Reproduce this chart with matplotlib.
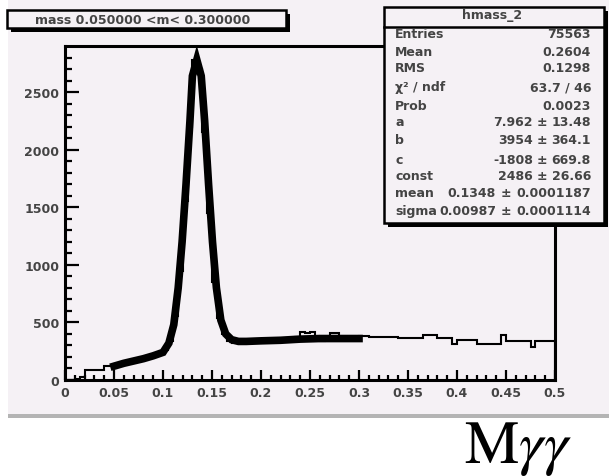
import numpy as np
import matplotlib.pyplot as plt
from matplotlib.patches import Rectangle

# two-photon invariant mass, 100 bins of 0.005 between 0 and 0.5
bin_edges = np.linspace(0.0, 0.5, 101)
counts = [
    0, 0, 5, 30, 85, 85, 85, 85, 124, 124,
    135, 145, 150, 165, 170, 180, 190, 200, 215, 230,
    260, 340, 560, 950, 1550, 2200, 2780, 2700, 2150, 1450,
    850, 540, 400, 340, 325, 320, 335, 345, 340, 350,
    345, 355, 350, 360, 355, 365, 360, 375, 420, 410,
    415, 360, 340, 345, 410, 405, 360, 350, 370, 375,
    385, 385, 370, 370, 370, 370, 370, 370, 362, 362,
    362, 362, 362, 392, 392, 392, 365, 365, 365, 310,
    348, 348, 348, 348, 315, 315, 315, 315, 315, 392,
    342, 342, 342, 342, 342, 288, 342, 342, 342, 342,
]

# gaussian + pol2 fit, drawn over the fit range 0.05 - 0.3
fit_x = [0.050, 0.060, 0.070, 0.080, 0.090, 0.100, 0.106, 0.111, 0.1155,
         0.1195, 0.1235, 0.1275, 0.130, 0.1345, 0.139, 0.1425, 0.1465,
         0.1505, 0.1545, 0.159, 0.164, 0.170, 0.177, 0.185, 0.200, 0.220,
         0.240, 0.260, 0.280, 0.300]
fit_y = [120, 145, 165, 185, 210, 240, 320, 480, 800,
         1200, 1700, 2250, 2640, 2780, 2640, 2250, 1700,
         1200, 800, 520, 400, 350, 335, 335, 340, 345,
         355, 360, 360, 360]

x_ticks = [0, 0.05, 0.1, 0.15, 0.2, 0.25, 0.3, 0.35, 0.4, 0.45, 0.5]
x_tick_labels = ['0', '0.05', '0.1', '0.15', '0.2', '0.25', '0.3', '0.35',
                 '0.4', '0.45', '0.5']
y_ticks = [0, 500, 1000, 1500, 2000, 2500]
y_tick_labels = ['0', '500', '1000', '1500', '2000', '2500']

hist_title = 'mass 0.050000 <m< 0.300000'
stats_title = 'hmass_2'
stat_names = ['Entries', 'Mean', 'RMS', 'χ² / ndf', 'Prob']
stat_values = ['75563', '0.2604', '0.1298', '63.7 / 46', '0.0023']
par_names = ['a', 'b', 'c', 'const']
par_values = ['7.962', '3954', '-1808', '2486']
par_errors = ['13.48', '364.1', '669.8', '26.66']
peak_names = ['mean', 'sigma']
peak_values = ['0.1348', '0.00987']
peak_errors = ['0.0001187', '0.0001114']

W, H = 609, 477
pad_color = '#f5f1f5'
text_color = '#444444'
font = 'DejaVu Sans'


def fx(px):
    return px / W


def fy(py):
    return 1 - py / H


def box(fig, left, top, right, bottom, shadow=4):
    # ROOT style pave: black shadow down-right, then the filled frame
    fig.add_artist(Rectangle((fx(left + shadow), fy(bottom + shadow)),
                             fx(right - left), (bottom - top) / H,
                             transform=fig.transFigure, color='black', lw=0,
                             zorder=5))
    fig.add_artist(Rectangle((fx(left), fy(bottom)),
                             fx(right - left), (bottom - top) / H,
                             transform=fig.transFigure, facecolor=pad_color,
                             edgecolor='black', lw=1.8, zorder=6))


fig = plt.figure(figsize=(W / 100, H / 100), dpi=100)
fig.patch.set_facecolor('white')

# canvas pad and the grey strip under it
fig.add_artist(Rectangle((fx(8), fy(415)), fx(W - 8), 415 / H,
                         transform=fig.transFigure, color=pad_color, lw=0,
                         zorder=-10))
fig.add_artist(Rectangle((fx(8), fy(419)), fx(W - 8), 4 / H,
                         transform=fig.transFigure, color='#b4b4b4', lw=0,
                         zorder=-10))

ax = fig.add_axes([fx(65), fy(381), fx(555 - 65), (381 - 47) / H])
ax.set_facecolor(pad_color)
ax.stairs(counts, bin_edges, color='black', lw=1.5)
ax.plot(fit_x, fit_y, color='black', lw=5.5, solid_joinstyle='miter',
        clip_on=False)

ax.set_xlim(0, 0.5)
ax.set_ylim(0, 2900)
ax.set_xticks(x_ticks)
ax.set_xticklabels(x_tick_labels)
ax.set_yticks(y_ticks)
ax.set_yticklabels(y_tick_labels)
ax.set_xticks(np.arange(0, 0.5001, 0.01), minor=True)
ax.set_yticks(np.arange(0, 2900, 100), minor=True)
ax.tick_params(axis='y', which='major', direction='in', length=10, width=1.6,
               pad=4, labelsize=9)
ax.tick_params(axis='y', which='minor', direction='in', length=5, width=1.6)
ax.tick_params(axis='x', which='major', direction='in', length=7, width=1.6,
               pad=4, labelsize=9)
ax.tick_params(axis='x', which='minor', direction='in', length=3.5, width=1.6)
for lab in ax.get_xticklabels() + ax.get_yticklabels():
    lab.set_fontweight('bold')
    lab.set_color(text_color)
    lab.set_family(font)
for sp in ax.spines.values():
    sp.set_linewidth(2.2)

# histogram title pave
box(fig, 7, 11, 286, 29)
fig.text(fx(143), fy(20), hist_title, ha='center', va='center', fontsize=9,
         family=font, weight='bold', color=text_color, zorder=7)

# statistics / fit pave
box(fig, 384, 8, 604, 224)
fig.add_artist(plt.Line2D([fx(384), fx(604)], [fy(28), fy(28)],
                          transform=fig.transFigure, color='black', lw=1.8,
                          zorder=7))
fig.text(fx(492), fy(16), stats_title, ha='center', va='center', fontsize=9,
         family=font, weight='bold', color=text_color, zorder=7)

st = dict(fontsize=9, family=font, weight='bold',
          color=text_color, va='center', zorder=7)
rows_y = [34, 53, 69, 88, 107]
for name, val, yy in zip(stat_names, stat_values, rows_y):
    fig.text(fx(395), fy(yy), name, ha='left', **st)
    fig.text(fx(591), fy(yy), val, ha='right', **st)

rows_y = [123, 141, 161, 176]
for name, val, err, yy in zip(par_names, par_values, par_errors, rows_y):
    fig.text(fx(395), fy(yy), name, ha='left', **st)
    fig.text(fx(533), fy(yy), val, ha='right', **st)
    fig.text(fx(542), fy(yy), '±', ha='center', **st)
    fig.text(fx(591), fy(yy), err, ha='right', **st)

rows_y = [194, 212]
for name, val, err, yy in zip(peak_names, peak_values, peak_errors, rows_y):
    fig.text(fx(395), fy(yy), name, ha='left', **st)
    fig.text(fx(496), fy(yy), val, ha='right', **st)
    fig.text(fx(506), fy(yy), '±', ha='center', **st)
    fig.text(fx(591), fy(yy), err, ha='right', **st)

# axis label under the canvas
plt.rcParams['mathtext.fontset'] = 'stix'
fig.text(fx(518), fy(463), r'$\mathrm{M}\gamma\gamma$', ha='center',
         va='baseline', fontsize=44, color='black')

fig.savefig('out.png', dpi=100)
